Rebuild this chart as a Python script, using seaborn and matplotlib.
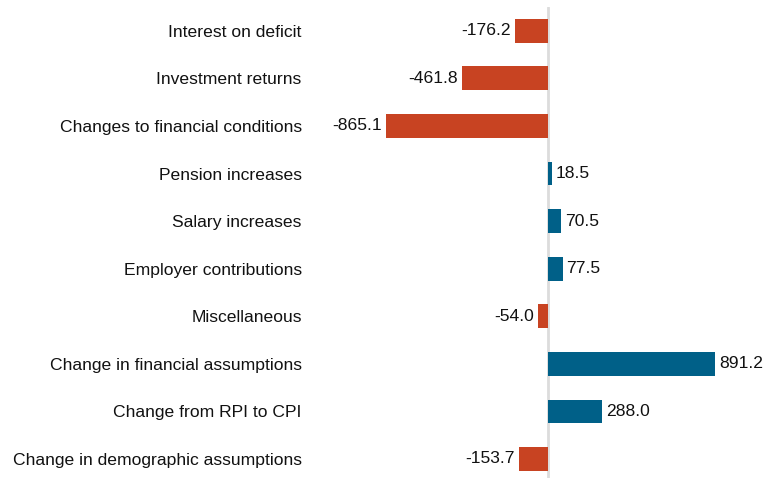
import matplotlib
matplotlib.use("Agg")
import matplotlib.pyplot as plt
import seaborn as sns
import pandas as pd

categories = [
    "Interest on deficit",
    "Investment returns",
    "Changes to financial conditions",
    "Pension increases",
    "Salary increases",
    "Employer contributions",
    "Miscellaneous",
    "Change in financial assumptions",
    "Change from RPI to CPI",
    "Change in demographic assumptions",
]
values = [-176.2, -461.8, -865.1, 18.5, 70.5, 77.5, -54.0, 891.2, 288.0, -153.7]

red = "#c84322"
blue = "#006088"

df = pd.DataFrame({"item": categories, "value": values})
colors = [red if v < 0 else blue for v in values]

sns.set_style("white")
plt.rcParams["font.family"] = ["Liberation Sans", "DejaVu Sans"]

fig = plt.figure(figsize=(7.68, 4.78), dpi=100)
ax = fig.add_axes([0.40, 0.0, 0.60, 471 / 478])

sns.barplot(data=df, x="value", y="item", hue="item", palette=colors,
            legend=False, width=0.5, dodge=False, ax=ax, saturation=1, linewidth=0)

ax.axvline(0, color="#dcdcdc", lw=2, zorder=0)
ax.set_xlim(-1286, 1174)
ax.set_ylim(9.40, -0.5)

fs = 12.6
for cont in ax.containers:
    for bar in cont:
        w = bar.get_width()
        y = bar.get_y() + bar.get_height() / 2
        if w < 0:
            ax.text(w - 22, y, f"{w:.1f}", ha="right", va="center", fontsize=fs, color="#111111")
        else:
            ax.text(w + 20, y, f"{w:.1f}", ha="left", va="center", fontsize=fs, color="#111111")

ax.set_xlabel("")
ax.set_ylabel("")
ax.set_xticks([])
ax.tick_params(axis="y", length=0, pad=4, labelsize=fs, labelcolor="#111111")
for s in ax.spines.values():
    s.set_visible(False)

fig.savefig("out.png", dpi=100)
